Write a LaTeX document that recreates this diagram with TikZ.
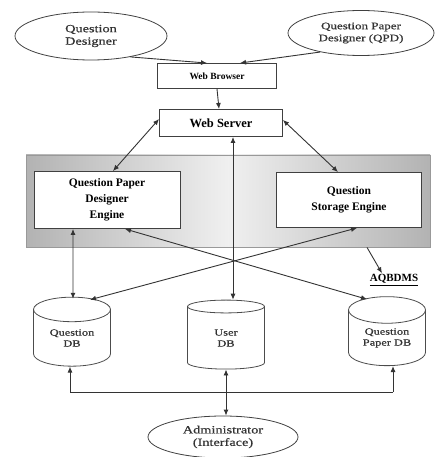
\documentclass[tikz,border=0pt]{standalone}
\usepackage{fontspec}
\setmainfont{Liberation Serif}
\newfontfamily\widefont[FakeStretch=1.3,FakeBold=0.6]{Liberation Serif}
\usetikzlibrary{shapes.geometric,arrows.meta}
\tikzset{
  conn/.style={draw=black!80, line width=0.9pt, -{Latex[length=6pt,width=5pt]}},
  bconn/.style={draw=black!80, line width=0.9pt, {Latex[length=6pt,width=5pt]}-{Latex[length=6pt,width=5pt]}},
  plain/.style={draw=black!80, line width=0.9pt},
  actor/.style={ellipse, draw=black!75, line width=0.8pt, fill=white, align=center, inner sep=0pt, text=black!80},
  boxn/.style={rectangle, draw=black!75, line width=0.9pt, fill=white, align=center, inner sep=0pt},
  db/.style={cylinder, shape border rotate=90, aspect=0.55, draw=black!70, line width=0.8pt, fill=white, align=center, inner sep=0pt, minimum width=77pt, minimum height=69pt, text=black!80, font=\widefont\fontsize{9.5}{11}\selectfont}
}
\begin{document}
\begin{tikzpicture}[x=1pt,y=-1pt]
\useasboundingbox (0,0) rectangle (436,457);
% actors
\node[actor, minimum width=152pt, minimum height=48pt, font=\widefont\fontsize{11}{12.5}\selectfont] (qd) at (91,36) {Question\\Designer};
\node[actor, minimum width=146pt, minimum height=45pt, font=\widefont\fontsize{10}{12}\selectfont] (qpd) at (361,33) {Question Paper\\Designer (QPD)};
% web
\node[boxn, minimum width=119pt, minimum height=25pt, font=\fontsize{9.5}{11}\selectfont\bfseries] (wb) at (217,76) {Web Browser};
\node[boxn, minimum width=123pt, minimum height=27pt, font=\fontsize{12.5}{14}\selectfont\bfseries] (ws) at (221,123) {Web Server};
% panel
\node[rectangle, draw=black!40, line width=0.8pt, left color=black!30, right color=black!30, middle color=black!6, minimum width=404pt, minimum height=92pt, inner sep=0pt] (panel) at (228,201) {};
\node[boxn, minimum width=146pt, minimum height=57pt, font=\fontsize{11.5}{16}\selectfont\bfseries] (qpde) at (107,200) {Question Paper\\Designer\\Engine};
\node[boxn, minimum width=145pt, minimum height=55pt, font=\fontsize{11.5}{16}\selectfont\bfseries] (qse) at (349,200) {Question\\Storage Engine};
\node[font=\fontsize{11}{13}\selectfont\bfseries, inner sep=1pt] (aq) at (394,280) {\underline{AQBDMS}};
% databases
\node[db] (qdb) at (72,338) {Question\\DB};
\node[db] (udb) at (226,338) {User\\DB};
\node[db] (qpdb) at (387,338) {Question\\Paper DB};
% admin
\node[actor, minimum width=150pt, minimum height=42pt, font=\widefont\fontsize{11}{12.5}\selectfont] (adm) at (223,437) {Administrator\\(Interface)};
% connectors
\draw[conn] (qd.-28) -- ([xshift=-10pt]wb.north);
\draw[conn] (qpd.205) -- ([xshift=23pt]wb.north);
\draw[conn] (wb.south) -- ([xshift=-2pt]ws.north);
\draw[bconn] ([yshift=4pt]ws.west) -- ([xshift=6pt]qpde.north);
\draw[bconn] ([yshift=3pt]ws.east) -- ([xshift=-11pt]qse.north);
\coordinate (wsb) at ([xshift=12pt]ws.south);
\draw[bconn] (wsb) -- (udb.north -| wsb);
\draw[bconn] ([xshift=-34pt]qpde.south) -- ([xshift=1pt,yshift=-2pt]qdb.north);
\draw[bconn] ([xshift=18pt]qpde.south) -- ([xshift=-20pt,yshift=-3pt]qpdb.north);
\draw[bconn] ([xshift=8pt]qse.south) -- ([xshift=18pt,yshift=-3pt]qdb.north);
\draw[conn] ([xshift=139pt]panel.south) -- ([xshift=-12pt]aq.north);
% bottom bus
\coordinate (busl) at (70,392);
\coordinate (busm) at (226,392);
\coordinate (busr) at (393,392);
\draw[plain] (busl) -- (busr);
\draw[conn] (busl) -- (qdb.south -| busl);
\draw[conn] (busm) -- (udb.south -| busm);
\draw[conn] (busr) -- (qpdb.south -| busr);
\draw[conn] (busm) -- (adm.north -| busm);
\end{tikzpicture}
\end{document}
